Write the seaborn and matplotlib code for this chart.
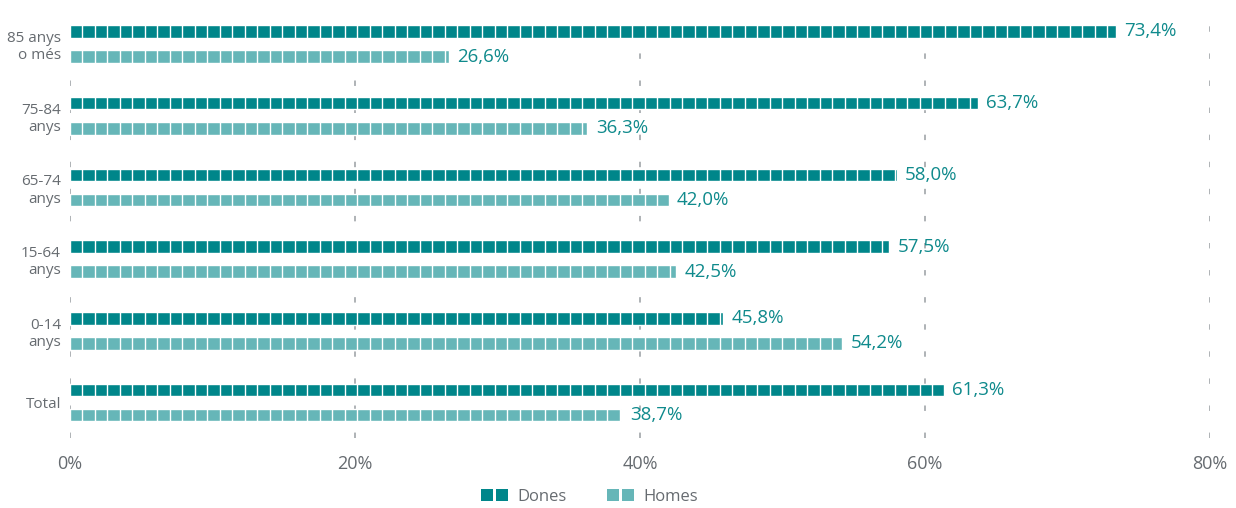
import pandas as pd
import numpy as np
import matplotlib.pyplot as plt
import seaborn as sns
from matplotlib.lines import Line2D

CATEGORIES = ["85 anys\no més", "75-84\nanys", "65-74\nanys", "15-64\nanys", "0-14\nanys", "Total"]
DONES = [73.4, 63.7, 58.0, 57.5, 45.8, 61.3]
HOMES = [26.6, 36.3, 42.0, 42.5, 54.2, 38.7]
SERIES = ["Dones", "Homes"]
X_TICKS = [0, 20, 40, 60, 80]

COLORS = {"Dones": "#00868a", "Homes": "#66b6b8"}
LABEL_COLOR = "#0f8a8c"
TEXT_GRAY = "#666b70"

df = pd.DataFrame({
    "grup": CATEGORIES * 2,
    "sexe": ["Dones"] * len(CATEGORIES) + ["Homes"] * len(CATEGORIES),
    "valor": DONES + HOMES,
})

sns.set_theme(style="white")
plt.rcParams["font.family"] = ["Open Sans", "DejaVu Sans"]

fig = plt.figure(figsize=(12.36, 5.08), dpi=100)
ax = fig.add_axes([70 / 1236, 1 - 438.4 / 508, 1140 / 1236, 430.3 / 508])

sns.barplot(
    data=df, y="grup", x="valor", hue="sexe", order=CATEGORIES, hue_order=SERIES,
    palette=COLORS, orient="h", width=0.7, gap=0.5, saturation=1,
    legend=False, ax=ax, zorder=2,
)

ax.set_xlim(0, 80)
ax.set_ylim(5.5, -0.5)

# white gaps to make the bars look like rows of squares
period = 0.877
for p in ax.patches:
    w = p.get_width()
    y0, h = p.get_y(), p.get_height()
    xs = np.arange(period, w, period)
    ax.vlines(xs, y0, y0 + h, colors="white", linewidth=1.0, zorder=3)
    ax.text(w + 0.6, y0 + h / 2, f"{w:.1f}%".replace(".", ","),
            va="center", ha="left", fontsize=13.5,
            color=LABEL_COLOR, zorder=4)

ax.set_xticks(X_TICKS)
ax.set_xticklabels([f"{t}%" for t in X_TICKS], fontsize=13, color=TEXT_GRAY)
ax.tick_params(axis="x", length=0, pad=12)
ax.tick_params(axis="y", length=0, pad=6.5)
for lab in ax.get_yticklabels():
    lab.set_fontsize(11)
    lab.set_color(TEXT_GRAY)
    lab.set_horizontalalignment("right")
    lab.set_multialignment("right")

ax.set_xlabel("")
ax.set_ylabel("")
for s in ax.spines.values():
    s.set_visible(False)

ax.xaxis.grid(True, color="#a8acb0", linewidth=1.3, linestyle=(0, (3.0, 12.0)), zorder=0)
ax.yaxis.grid(False)
ax.set_axisbelow(True)

handles = [Line2D([], [], marker="s", linestyle="none", markersize=9,
                  color=COLORS[s], markeredgewidth=0) for s in SERIES]
fig.legend(handles, SERIES, loc="center", bbox_to_anchor=(590 / 1236, 1 - 497 / 508),
           ncol=2, frameon=False, numpoints=2, handlelength=1.5, handletextpad=0.6,
           columnspacing=2.5, fontsize=12, labelcolor=TEXT_GRAY)

fig.savefig("out.png", dpi=100)
